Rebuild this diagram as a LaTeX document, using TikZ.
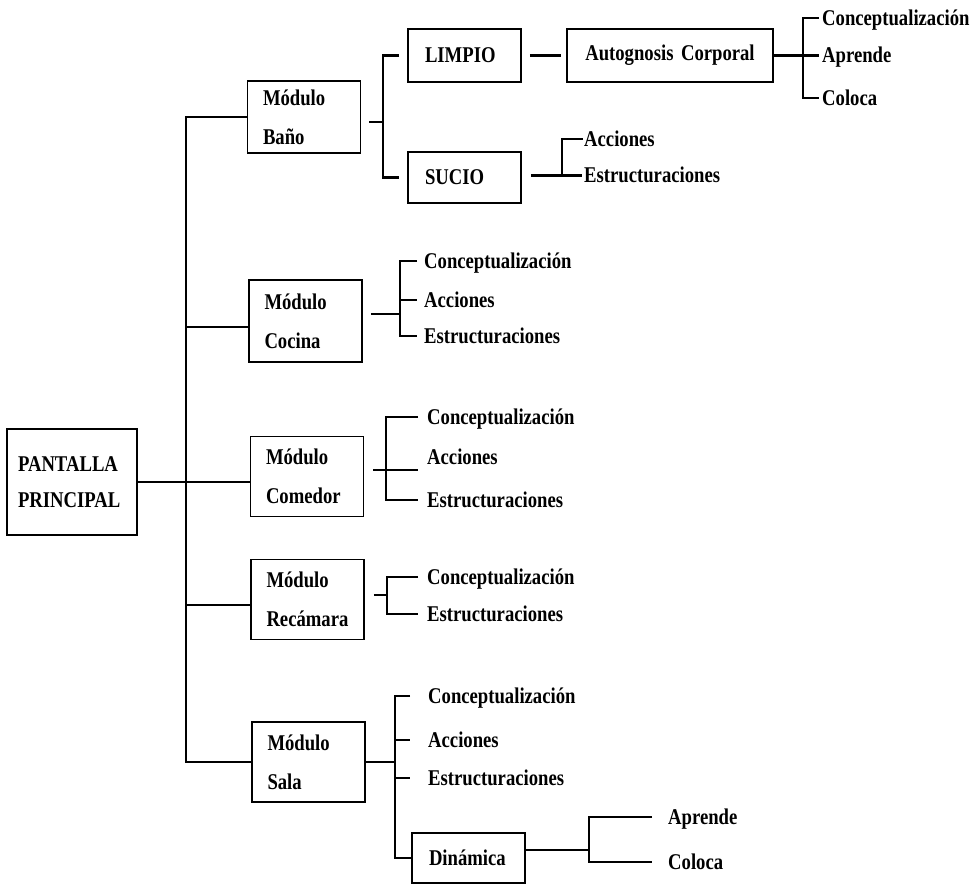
\documentclass[tikz,border=0pt]{standalone}
\usepackage{fontspec}
\setmainfont[FakeStretch=0.83]{Liberation Serif}
\usetikzlibrary{positioning}

\begin{document}
\begin{tikzpicture}[x=1pt, y=-1pt, line width=2.4pt,
    block/.style={rectangle, draw, line width=1.6pt, minimum width=113pt, minimum height=80pt, text width=82pt, inner xsep=15.5pt, align=left, font=\bfseries\fontsize{22.5}{39}\selectfont},
    tag/.style={rectangle, draw, line width=1.6pt, minimum width=113pt, text width=79pt, inner xsep=17pt, align=left, font=\bfseries\fontsize{22.5}{26}\selectfont},
    leaf/.style={anchor=west, inner sep=0pt, text height=15pt, text depth=0pt, font=\bfseries\fontsize{22.5}{26}\selectfont}]

    \useasboundingbox (0,0) rectangle (974,885);

    \node[block, text width=108pt, inner xsep=11pt, minimum height=106pt, font=\bfseries\fontsize{22.5}{36}\selectfont] (pant) at (72,482) {PANTALLA\\PRINCIPAL};
    \node[block, minimum height=72pt] (bano) at (304,117) {Módulo\\Baño};
    \node[block, minimum height=82pt] (cocina) at (305.5,321) {Módulo\\Cocina};
    \node[block] (comedor) at (307,476.5) {Módulo\\Comedor};
    \node[block] (recamara) at (307.5,599.5) {Módulo\\Recámara};
    \node[block] (sala) at (308.5,762) {Módulo\\Sala};

    \node[tag, minimum height=53pt] (limpio) at (464.5,55.5) {LIMPIO};
    \node[tag, minimum height=51pt] (sucio) at (464.5,177.5) {SUCIO};
    \node[tag, minimum height=53pt, text width=172pt, align=center] (autog) at (670,55.5) {Autognosis Corporal};
    \node[tag, minimum height=50pt] (dinam) at (468.5,858) {Dinámica};

    \node[leaf] (aCo) at (821,18) {Conceptualización};
    \node[leaf] (aAp) at (821,55.5) {Aprende};
    \node[leaf] (aCl) at (821,98) {Coloca};
    \node[leaf] (bAc) at (583,139) {Acciones};
    \node[leaf] (bEs) at (583,175.5) {Estructuraciones};
    \node[leaf] (cCo) at (423,261) {Conceptualización};
    \node[leaf] (cAc) at (423,300) {Acciones};
    \node[leaf] (cEs) at (423,336) {Estructuraciones};
    \node[leaf] (mCo) at (426,417) {Conceptualización};
    \node[leaf] (mAc) at (426,457) {Acciones};
    \node[leaf] (mEs) at (426,500) {Estructuraciones};
    \node[leaf] (rCo) at (426,577) {Conceptualización};
    \node[leaf] (rEs) at (426,614) {Estructuraciones};
    \node[leaf] (sCo) at (427,696) {Conceptualización};
    \node[leaf] (sAc) at (427,740) {Acciones};
    \node[leaf] (sEs) at (427,778) {Estructuraciones};
    \node[leaf] (dAp) at (667,817) {Aprende};
    \node[leaf] (dCl) at (667,862) {Coloca};

    \coordinate (trunk) at (186,0);
    \coordinate (banoB) at (383,0);
    \coordinate (sucB) at (562,0);
    \coordinate (autB) at (803,0);
    \coordinate (cocB) at (400,0);
    \coordinate (comB) at (386,0);
    \coordinate (recB) at (387,0);
    \coordinate (salB) at (395,0);
    \coordinate (dinB) at (589,0);

    \coordinate (cocW) at ([yshift=-6pt]cocina.west);
    \coordinate (cocE) at ([yshift=7pt]cocina.east);
    \coordinate (comE) at ([yshift=6.5pt]comedor.east);
    \coordinate (recW) at ([yshift=-5.5pt]recamara.west);
    \coordinate (recE) at ([yshift=4.5pt]recamara.east);
    \coordinate (banE) at ([yshift=-5pt]bano.east);
    \coordinate (sucE) at ([yshift=2pt]sucio.east);
    \coordinate (dinE) at ([yshift=8pt]dinam.east);

    \draw (bano.west) -| (trunk |- sala.west) -- (sala.west);
    \draw (pant.east) -- (pant.east -| comedor.west);
    \draw (cocW -| trunk) -- (cocW);
    \draw (recW -| trunk) -- (recW);

    \draw[shorten <=8pt] (banE) -- (banE -| banoB);
    \draw[shorten <=8pt, shorten >=8pt] (limpio.west) -| (banoB |- sucio.west) -- (sucio.west);
    \draw[shorten <=8pt, shorten >=5pt] (limpio.east) -- (autog.west);
    \draw[shorten <=9pt, shorten >=1pt] (sucE) -- (bEs.west);
    \draw[shorten >=1pt] (bAc.west) -| (sucB |- bEs.west);
    \draw[shorten >=2pt] (autog.east) -- (aAp.west);
    \draw[shorten <=2pt, shorten >=2pt] (aCo.west) -| (autB |- aCl.west) -- (aCl.west);

    \draw[shorten <=8pt] (cocE) -- (cocE -| cocB);
    \draw[shorten <=6pt, shorten >=6pt] (cCo.west) -| (cocB |- cEs.west) -- (cEs.west);
    \draw[shorten >=6pt] (cocB |- cAc.west) -- (cAc.west);

    \draw[shorten <=9pt, shorten >=8pt] (comE) -- (comE -| mAc.west);
    \draw[shorten <=8pt, shorten >=8pt] (mCo.west) -| (comB |- mEs.west) -- (mEs.west);

    \draw[shorten <=9pt] (recE) -- (recE -| recB);
    \draw[shorten <=8pt, shorten >=8pt] (rCo.west) -| (recB |- rEs.west) -- (rEs.west);

    \draw (sala.east) -- (sala.east -| salB);
    \draw[shorten <=17pt] (sCo.west) -| (salB |- dinam.west) -- (dinam.west);
    \draw[shorten >=17pt] (salB |- sAc.west) -- (sAc.west);
    \draw[shorten >=17pt] (salB |- sEs.west) -- (sEs.west);

    \draw (dinE) -- (dinE -| dinB);
    \draw[shorten <=15pt, shorten >=15pt] (dAp.west) -| (dinB |- dCl.west) -- (dCl.west);

\end{tikzpicture}
\end{document}
